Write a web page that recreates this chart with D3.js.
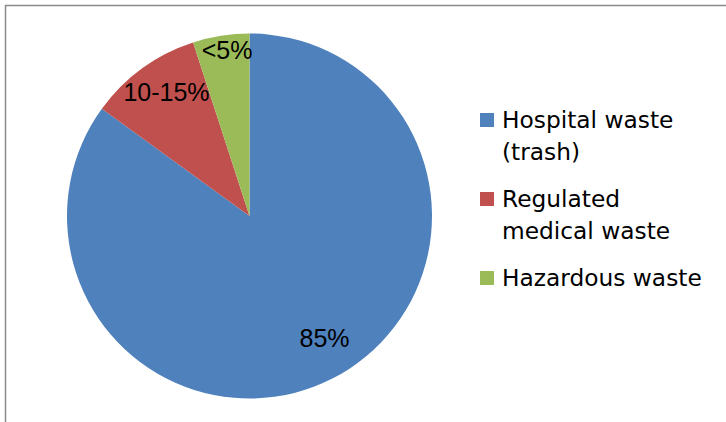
<!DOCTYPE html>
<html>
<head>
<meta charset="utf-8">
<script src="https://cdn.jsdelivr.net/npm/d3@7"></script>
<style>
  body { margin: 0; background: #fff; }
  svg { display: block; }
  .slice-label { font-family: "Liberation Sans", Arial, sans-serif; font-size: 25px; fill: #000; }
  .legend-text { font-family: "DejaVu Sans", sans-serif; font-size: 23.3px; fill: #000; }
</style>
</head>
<body>
<div id="vis"></div>
<script>
// chart data
var categories = ['Hospital waste (trash)', 'Regulated medical waste', 'Hazardous waste'];
var values = [85, 10, 5];
var sliceLabels = ['85%', '10-15%', '<5%'];
var legendLines = [['Hospital waste', '(trash)'], ['Regulated', 'medical waste'], ['Hazardous waste']];
var colors = ['#4F81BD', '#C0504D', '#9BBB59'];

var width = 726;
var height = 422;

var svg = d3.select('#vis')
            .append('svg')
            .attr('width', width)
            .attr('height', height);

// chart area border (only top and left visible in the crop)
svg.append('rect')
    .attr('x', 5.5)
    .attr('y', 5.5)
    .attr('width', 900)
    .attr('height', 900)
    .attr('fill', 'none')
    .attr('stroke', '#8a8a8a')
    .attr('stroke-width', 1.5);

var cx = 249.5;
var cy = 216;
var radius = 182.5;

var data = categories.map(function(c, i) {
    return { name: c, value: values[i], label: sliceLabels[i], lines: legendLines[i] };
});

var color = d3.scaleOrdinal()
              .domain(categories)
              .range(colors);

var pie = d3.pie()
            .sort(null)
            .value(function(d) { return d.value; });

var arc = d3.arc()
            .innerRadius(0)
            .outerRadius(radius);

var g = svg.append('g')
           .attr('transform', 'translate(' + cx + ', ' + cy + ')');

var arcs = pie(data);

g.selectAll('path')
    .data(arcs)
    .enter().append('path')
    .attr('d', arc)
    .attr('fill', function(d) { return color(d.data.name); });

// best-fit style labels: small slices pushed outward, big one pulled toward its start
var labelPlace = function(d) {
    var mid = (d.startAngle + d.endAngle) / 2;
    var deg = Math.PI / 180;
    if (d.data.value >= 50) return { r: radius * 0.785, a: mid - 4.6 * deg };
    if (d.data.value >= 10) return { r: radius * 0.818, a: mid + 2.2 * deg };
    return { r: radius * 0.918, a: mid + 1.3 * deg };
};

g.selectAll('text.slice-label')
    .data(arcs)
    .enter().append('text')
    .attr('class', 'slice-label')
    .attr('text-anchor', 'middle')
    .attr('dy', '0.36em')
    .attr('transform', function(d) {
        var p = labelPlace(d);
        return 'translate(' + (Math.sin(p.a) * p.r) + ', ' + (-Math.cos(p.a) * p.r) + ')';
    })
    .text(function(d) { return d.data.label; });

// legend
var legendX = 480;
var lineHeight = 32;
var entryGap = 15;
var baseline = 127.5;

var legend = svg.append('g').attr('class', 'legend');

data.forEach(function(d) {
    var item = legend.append('g');
    item.append('rect')
        .attr('x', legendX)
        .attr('y', baseline - 14.5)
        .attr('width', 14)
        .attr('height', 14)
        .attr('fill', color(d.name));
    var t = item.append('text')
        .attr('class', 'legend-text')
        .attr('x', legendX + 22)
        .attr('y', baseline);
    d.lines.forEach(function(line, j) {
        t.append('tspan')
         .attr('x', legendX + 22)
         .attr('y', baseline + j * lineHeight)
         .text(line);
    });
    baseline += d.lines.length * lineHeight + entryGap;
});
</script>
</body>
</html>
